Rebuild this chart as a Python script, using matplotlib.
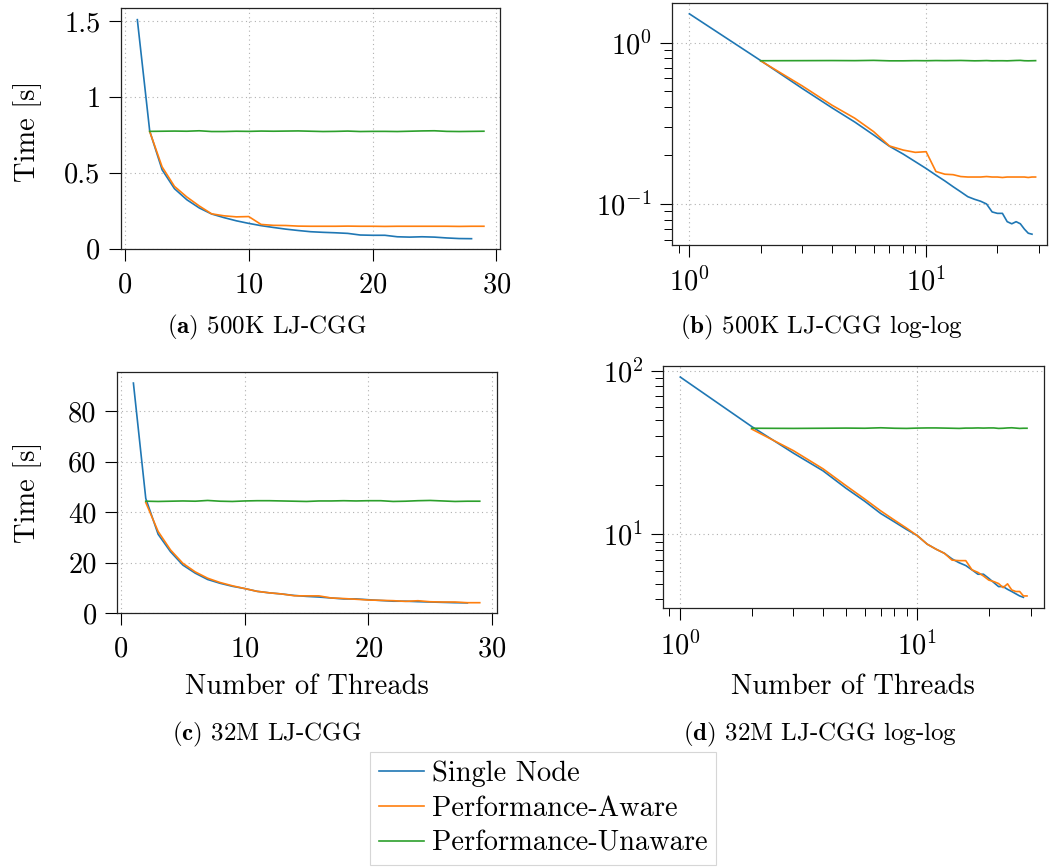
import matplotlib
matplotlib.use('Agg')
import matplotlib.pyplot as plt
from matplotlib.ticker import FuncFormatter, NullFormatter

plt.rcParams['font.family'] = ['cmr10', 'DejaVu Serif']
plt.rcParams['mathtext.fontset'] = 'cm'
plt.rcParams['axes.formatter.use_mathtext'] = True
plt.rcParams['axes.unicode_minus'] = False

BLUE = '#1f77b4'
ORANGE = '#ff7f0e'
GREEN = '#2ca02c'

# thread counts
threads_single = list(range(1, 29))
threads_dist = list(range(2, 30))

# 500K LJ-CGG, time in seconds
single_500k = [1.51, 0.775, 0.52, 0.395, 0.322, 0.268, 0.228, 0.204, 0.183, 0.166,
               0.151, 0.139, 0.128, 0.119, 0.111, 0.107, 0.104, 0.100, 0.0893, 0.0875,
               0.0875, 0.0777, 0.0754, 0.0777, 0.0754, 0.0699, 0.0659, 0.065]
aware_500k = [0.772, 0.539, 0.41, 0.340, 0.281, 0.229, 0.216, 0.209, 0.211, 0.159,
              0.153, 0.152, 0.148, 0.147, 0.147, 0.147, 0.148, 0.147, 0.147, 0.146,
              0.147, 0.147, 0.147, 0.147, 0.147, 0.146, 0.147, 0.147]
unaware_500k = [0.773, 0.774, 0.775, 0.774, 0.777, 0.772, 0.772, 0.774, 0.773, 0.775,
                0.774, 0.775, 0.776, 0.774, 0.772, 0.773, 0.775, 0.772, 0.773, 0.773,
                0.772, 0.774, 0.776, 0.777, 0.773, 0.772, 0.773, 0.774]

# 32M LJ-CGG, time in seconds
single_32m = [91.2, 45.5, 31.3, 24.4, 19.1, 15.9, 13.4, 11.9, 10.7, 9.8,
              8.7, 8.1, 7.65, 7.07, 6.7, 6.44, 6.06, 5.7, 5.7, 5.38,
              5.07, 4.79, 4.79, 4.61, 4.47, 4.33, 4.2, 4.12]
aware_32m = [43.9, 32.4, 25.1, 19.8, 16.4, 13.9, 12.2, 10.9, 9.8, 8.7,
             8.1, 7.65, 6.95, 6.9, 6.9, 6.06, 5.85, 5.56, 5.25, 5.14,
             5.0, 4.72, 4.98, 4.57, 4.47, 4.47, 4.2, 4.2]
unaware_32m = [44.4, 44.3, 44.4, 44.5, 44.4, 44.7, 44.4, 44.3, 44.5, 44.6,
               44.6, 44.5, 44.4, 44.3, 44.5, 44.5, 44.6, 44.5, 44.6, 44.6,
               44.3, 44.4, 44.6, 44.7, 44.5, 44.3, 44.4, 44.4]

W, H = 1053, 868
FS = 20.5       # tick labels / axis labels / legend
CAP_FS = 18     # sub-captions

fig = plt.figure(figsize=(W / 100, H / 100), dpi=100)


def px_axes(left, top, right, bottom):
    return fig.add_axes([left / W, 1 - bottom / H, (right - left) / W, (bottom - top) / H])


def style(ax):
    for s in ax.spines.values():
        s.set_linewidth(0.9)
        s.set_color('#222222')
    ax.tick_params(which='major', direction='out', length=8.4, width=0.8,
                   labelsize=FS, top=False, right=False)
    ax.tick_params(which='minor', direction='out', length=5.5, width=0.7,
                   top=False, right=False)
    ax.tick_params(axis='x', which='major', pad=8)
    ax.tick_params(axis='y', which='major', pad=6)
    ax.grid(True, which='major', linestyle=(0, (1, 3)), color='#b0b0b0', linewidth=0.8)
    ax.set_axisbelow(True)


def plot_series(ax, s, a, u):
    l1, = ax.plot(threads_single, s, color=BLUE, lw=1.2, label='Single Node')
    l2, = ax.plot(threads_dist, a, color=ORANGE, lw=1.2, label='Performance-Aware')
    l3, = ax.plot(threads_dist, u, color=GREEN, lw=1.2, label='Performance-Unaware')
    return [l1, l2, l3]


fmt = FuncFormatter(lambda v, p: '%g' % v)

# (a)
ax_a = px_axes(120.5, 8.3, 500, 249)
plot_series(ax_a, single_500k, aware_500k, unaware_500k)
ax_a.set_xlim(-0.36, 30.3)
ax_a.set_ylim(-0.003, 1.585)
ax_a.set_xticks([0, 10, 20, 30])
ax_a.set_yticks([0, 0.5, 1, 1.5])
ax_a.yaxis.set_major_formatter(fmt)
style(ax_a)

# (b)
ax_b = px_axes(671.7, 2.7, 1047, 245)
plot_series(ax_b, single_500k, aware_500k, unaware_500k)
ax_b.set_xscale('log')
ax_b.set_yscale('log')
ax_b.set_xlim(0.842, 32.4)
ax_b.set_ylim(0.0557, 1.77)
style(ax_b)

# (c)
ax_c = px_axes(116.7, 371.7, 496.7, 613.3)
handles = plot_series(ax_c, single_32m, aware_32m, unaware_32m)
ax_c.set_xlim(-0.35, 30.37)
ax_c.set_ylim(0, 95.7)
ax_c.set_xticks([0, 10, 20, 30])
ax_c.set_yticks([0, 20, 40, 60, 80])
ax_c.yaxis.set_major_formatter(fmt)
style(ax_c)

# (d)
ax_d = px_axes(663.3, 365.7, 1044, 608.3)
plot_series(ax_d, single_32m, aware_32m, unaware_32m)
ax_d.set_xscale('log')
ax_d.set_yscale('log')
ax_d.set_xlim(0.848, 34.2)
ax_d.set_ylim(3.53, 107)
style(ax_d)

for ax in (ax_b, ax_d):
    ax.yaxis.set_minor_formatter(NullFormatter())
    ax.xaxis.set_minor_formatter(NullFormatter())

# axis labels
fig.text(28 / W, 1 - 131 / H, 'Time [s]', rotation=90, ha='center', va='center', fontsize=FS)
fig.text(28 / W, 1 - 492 / H, 'Time [s]', rotation=90, ha='center', va='center', fontsize=FS)
fig.text(307 / W, 1 - 687 / H, 'Number of Threads', ha='center', va='center', fontsize=FS)
fig.text(853 / W, 1 - 687 / H, 'Number of Threads', ha='center', va='center', fontsize=FS)

# sub-captions
fig.text(267 / W, 1 - 327 / H, r'$\mathbf{(a)}$ 500K LJ-CGG', ha='center', va='center', fontsize=CAP_FS)
fig.text(822 / W, 1 - 327 / H, r'$\mathbf{(b)}$ 500K LJ-CGG log-log', ha='center', va='center', fontsize=CAP_FS)
fig.text(267 / W, 1 - 734 / H, r'$\mathbf{(c)}$ 32M LJ-CGG', ha='center', va='center', fontsize=CAP_FS)
fig.text(820 / W, 1 - 734 / H, r'$\mathbf{(d)}$ 32M LJ-CGG log-log', ha='center', va='center', fontsize=CAP_FS)

leg = fig.legend(handles=handles, loc='upper center', bbox_to_anchor=(543 / W, 1 - 752 / H),
                 fontsize=FS, frameon=True, fancybox=False, edgecolor='#cccccc',
                 handlelength=1.6, handletextpad=0.25, labelspacing=0.3, borderpad=0.3,
                 borderaxespad=0)
leg.get_frame().set_linewidth(0.8)

fig.savefig('out.png', dpi=100)
